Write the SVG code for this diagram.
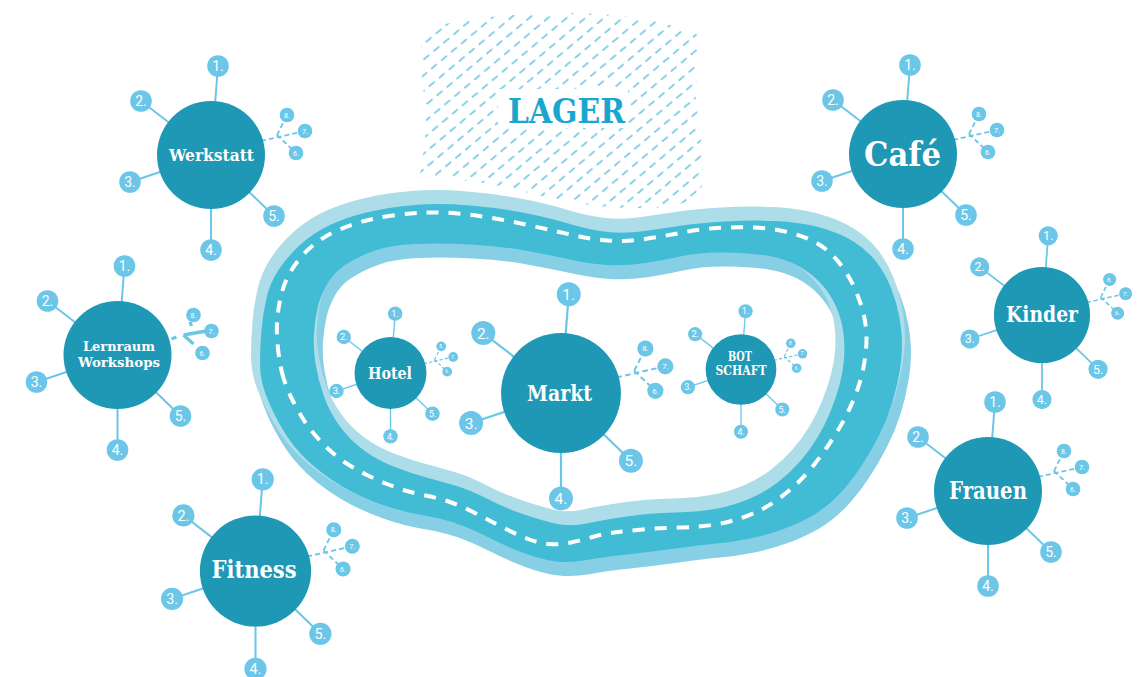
<svg xmlns="http://www.w3.org/2000/svg" xmlns:xlink="http://www.w3.org/1999/xlink" width="1144" height="677" viewBox="0 0 1144 677">
<style>
.sat{fill:#6cc6e8}
.ln{stroke:#6cc6e8;stroke-width:2;fill:none}
.dl{stroke:#6cc6e8;stroke-width:1.8;fill:none;stroke-dasharray:5 3}
.th{stroke:#6cc6e8;stroke-width:3.3;fill:none}
.main{fill:#1e98b4}
.num{font-family:Roboto,"Liberation Sans",sans-serif;fill:#fff;font-size:14px;text-anchor:middle}
.sm{font-size:7px}
.lbl{font-family:"DejaVu Serif","Liberation Serif",serif;font-weight:bold;fill:#fff;text-anchor:middle}
</style>
<defs>
<pattern id="hatch" patternUnits="userSpaceOnUse" width="13" height="12" patternTransform="rotate(-40)">
<line x1="0" y1="6" x2="7.5" y2="6" stroke="#6cc6e8" stroke-width="1.6"/>
</pattern>
<path id="ring" fill-rule="evenodd" d="M266.5,396.5 Q260,380 260,363.5 Q260,347 261.5,330 Q263,313 266.5,298 Q270,283 278.5,270 Q287,257 300,245 Q313,233 330,225 Q347,217 368.5,212 Q390,207 415,205 Q440,203 470,205.5 Q500,208 525,213 Q550,218 570,224 Q590,230 607.5,232 Q625,234 645,231 Q665,228 682.5,225.5 Q700,223 725,221.5 Q750,220 775,221 Q800,222 820,227.5 Q840,233 853.5,241.5 Q867,250 876,261.5 Q885,273 891,288 Q897,303 899.5,318 Q902,333 902,345 Q902,357 899.5,372 Q897,387 892,403.5 Q887,420 878.5,436.5 Q870,453 860,468 Q850,483 838.5,495 Q827,507 813.5,515 Q800,523 783.5,529 Q767,535 750,538.5 Q733,542 716.5,543.5 Q700,545 675,548.5 Q650,552 626.5,554.5 Q603,557 586.5,560 Q570,563 556.5,561.5 Q543,560 525,553.5 Q507,547 488.5,537.5 Q470,528 455,523 Q440,518 421.5,515 Q403,512 381.5,504.5 Q360,497 341.5,486 Q323,475 308,461 Q293,447 283,430 Q273,413 266.5,396.5 Z M314,333.5 Q313,347 315.5,363.5 Q318,380 324,396.5 Q330,413 340,426.5 Q350,440 363.5,450 Q377,460 393.5,466.5 Q410,473 426.5,477.5 Q443,482 456.5,486 Q470,490 486.5,498.5 Q503,507 521.5,513.5 Q540,520 555,523.5 Q570,527 586.5,523.5 Q603,520 626.5,516.5 Q650,513 675,512.5 Q700,512 717.5,508.5 Q735,505 750,498.5 Q765,492 777.5,482.5 Q790,473 800,461.5 Q810,450 817.5,437.5 Q825,425 830.5,411.5 Q836,398 839.5,385 Q843,372 844,359.5 Q845,347 843.5,333.5 Q842,320 836,306.5 Q830,293 820,282.5 Q810,272 796.5,265 Q783,258 766.5,255.5 Q750,253 725,252.5 Q700,252 682.5,256 Q665,260 645,263 Q625,266 607.5,265 Q590,264 570,259.5 Q550,255 525,250.5 Q500,246 470,244.5 Q440,243 415,244 Q390,245 373.5,251 Q357,257 345,265 Q333,273 326.5,285 Q320,297 317.5,308.5 Q315,320 314,333.5 Z"/>
</defs>

<g id="road">
<use xlink:href="#ring" href="#ring" transform="translate(3,8)" fill="#87cfe5" stroke="#87cfe5" stroke-width="12" stroke-linejoin="round"/>
<use xlink:href="#ring" href="#ring" transform="translate(-3,-8)" fill="#acdde8" stroke="#acdde8" stroke-width="12" stroke-linejoin="round"/>
<use xlink:href="#ring" href="#ring" fill="#41bcd4"/>
<path fill="none" stroke="#fff" stroke-width="4" stroke-dasharray="12 10" d="M283.5,378 Q280,367 278,348.5 Q276,330 277.5,316.5 Q279,303 282,292 Q285,281 290,272.5 Q295,264 302,256 Q309,248 318,241.5 Q327,235 338.5,230 Q350,225 362.5,221.5 Q375,218 392.5,215.5 Q410,213 425,212.5 Q440,212 457.5,213.5 Q475,215 495,218.5 Q515,222 535,226.5 Q555,231 572.5,235 Q590,239 607.5,240.5 Q625,242 645,239 Q665,236 682.5,232.5 Q700,229 717.5,228 Q735,227 752.5,227.5 Q770,228 785,231.5 Q800,235 810,239.5 Q820,244 828.5,251.5 Q837,259 843.5,268.5 Q850,278 854.5,288 Q859,298 862,308 Q865,318 866,328.5 Q867,339 866,350 Q865,361 862.5,372 Q860,383 856,393.5 Q852,404 847,414 Q842,424 836,433.5 Q830,443 824,451.5 Q818,460 811,468.5 Q804,477 796.5,484 Q789,491 780.5,497.5 Q772,504 762.5,509 Q753,514 741.5,518 Q730,522 715,524.5 Q700,527 680,527.5 Q660,528 642.5,529.5 Q625,531 614,532.5 Q603,534 592.5,537 Q582,540 571,542.5 Q560,545 549,544 Q538,543 528,539 Q518,535 508,530 Q498,525 488.5,520 Q479,515 469,510 Q459,505 448.5,501.5 Q438,498 427.5,496 Q417,494 407,491 Q397,488 387,484 Q377,480 367,475 Q357,470 347.5,464 Q338,458 330,450.5 Q322,443 315,435 Q308,427 302.5,418 Q297,409 292,399 Q287,389 283.5,378 Z"/>
</g>

<g id="lager">
<path fill="url(#hatch)" d="M425,28 C470,18 520,12 580,13 C630,15 670,22 698,35 C702,60 692,85 697,110 C702,140 704,165 702,185 C700,200 680,208 640,208 C590,209 540,196 500,186 C470,180 440,178 420,175 C424,150 428,125 425,100 C421,75 418,50 425,28 Z"/>
<rect x="498" y="89" width="130" height="39" fill="#fff"/>
<text x="566.5" y="123" font-family="'DejaVu Serif','Liberation Serif',serif" font-weight="bold" font-size="33" fill="#1aa6cf" text-anchor="middle" textLength="117" lengthAdjust="spacingAndGlyphs">LAGER</text>
</g>

<g id="werkstatt">
<g transform="translate(211,155)">
<g class="links"><path class="ln" d="M0,0L7,-89M0,0L-70,-54M0,0L-81,27M0,0L0,95M0,0L63,61"/><path class="dl" d="M50,-14L94,-24M66,-20L76,-40M66,-20L85,-2"/></g>
<circle class="main" r="54"/>
<circle class="sat" cx="7" cy="-89" r="10.8"/><circle class="sat" cx="-70" cy="-54" r="10.8"/><circle class="sat" cx="-81" cy="27" r="10.8"/><circle class="sat" cx="0" cy="95" r="10.8"/><circle class="sat" cx="63" cy="61" r="10.8"/>
<circle class="sat" cx="76" cy="-40" r="7.3"/><circle class="sat" cx="94" cy="-24" r="7.3"/><circle class="sat" cx="85" cy="-2" r="7.3"/>
<text class="num" x="7" y="-84">1.</text><text class="num" x="-70" y="-49">2.</text><text class="num" x="-81" y="32">3.</text><text class="num" x="0" y="100">4.</text><text class="num" x="63" y="66">5.</text>
<text class="num sm" x="85" y="0.5">6.</text><text class="num sm" x="94" y="-21.5">7.</text><text class="num sm" x="76" y="-37.5">8.</text>
</g>
<text class="lbl" x="211.5" y="160.5" font-size="17" textLength="85" lengthAdjust="spacingAndGlyphs">Werkstatt</text>
</g>

<g id="cafe">
<g transform="translate(903,154)">
<g class="links"><path class="ln" d="M0,0L7,-89M0,0L-70,-54M0,0L-81,27M0,0L0,95M0,0L63,61"/><path class="dl" d="M50,-14L94,-24M66,-20L76,-40M66,-20L85,-2"/></g>
<circle class="main" r="54"/>
<circle class="sat" cx="7" cy="-89" r="10.8"/><circle class="sat" cx="-70" cy="-54" r="10.8"/><circle class="sat" cx="-81" cy="27" r="10.8"/><circle class="sat" cx="0" cy="95" r="10.8"/><circle class="sat" cx="63" cy="61" r="10.8"/>
<circle class="sat" cx="76" cy="-40" r="7.3"/><circle class="sat" cx="94" cy="-24" r="7.3"/><circle class="sat" cx="85" cy="-2" r="7.3"/>
<text class="num" x="7" y="-84">1.</text><text class="num" x="-70" y="-49">2.</text><text class="num" x="-81" y="32">3.</text><text class="num" x="0" y="100">4.</text><text class="num" x="63" y="66">5.</text>
<text class="num sm" x="85" y="0.5">6.</text><text class="num sm" x="94" y="-21.5">7.</text><text class="num sm" x="76" y="-37.5">8.</text>
</g>
<text class="lbl" x="902.5" y="166" font-size="33" textLength="77" lengthAdjust="spacingAndGlyphs">Café</text>
</g>

<g id="lernraum">
<g transform="translate(117.5,355)">
<g class="links"><path class="ln" d="M0,0L7,-89M0,0L-70,-54M0,0L-81,27M0,0L0,95M0,0L63,61"/><path class="th" d="M54,-16L59,-18M66,-20L89,-24M66,-20L76,-11M72.5,-33L74,-29"/></g>
<circle class="main" r="54"/>
<circle class="sat" cx="7" cy="-89" r="10.8"/><circle class="sat" cx="-70" cy="-54" r="10.8"/><circle class="sat" cx="-81" cy="27" r="10.8"/><circle class="sat" cx="0" cy="95" r="10.8"/><circle class="sat" cx="63" cy="61" r="10.8"/>
<circle class="sat" cx="76" cy="-40" r="7.3"/><circle class="sat" cx="94" cy="-24" r="7.3"/><circle class="sat" cx="85" cy="-2" r="7.3"/>
<text class="num" x="7" y="-84">1.</text><text class="num" x="-70" y="-49">2.</text><text class="num" x="-81" y="32">3.</text><text class="num" x="0" y="100">4.</text><text class="num" x="63" y="66">5.</text>
<text class="num sm" x="85" y="0.5">6.</text><text class="num sm" x="94" y="-21.5">7.</text><text class="num sm" x="76" y="-37.5">8.</text>
</g>
<text class="lbl" x="119" y="350.5" font-size="13.5" textLength="72" lengthAdjust="spacingAndGlyphs">Lernraum</text>
<text class="lbl" x="119" y="366.5" font-size="13.5" textLength="82" lengthAdjust="spacingAndGlyphs">Workshops</text>
</g>

<g id="fitness">
<g transform="translate(255.5,571) scale(1.03)">
<g class="links"><path class="ln" d="M0,0L7,-89M0,0L-70,-54M0,0L-81,27M0,0L0,95M0,0L63,61"/><path class="dl" d="M50,-14L94,-24M66,-20L76,-40M66,-20L85,-2"/></g>
<circle class="main" r="54"/>
<circle class="sat" cx="7" cy="-89" r="10.8"/><circle class="sat" cx="-70" cy="-54" r="10.8"/><circle class="sat" cx="-81" cy="27" r="10.8"/><circle class="sat" cx="0" cy="95" r="10.8"/><circle class="sat" cx="63" cy="61" r="10.8"/>
<circle class="sat" cx="76" cy="-40" r="7.3"/><circle class="sat" cx="94" cy="-24" r="7.3"/><circle class="sat" cx="85" cy="-2" r="7.3"/>
<text class="num" x="7" y="-84">1.</text><text class="num" x="-70" y="-49">2.</text><text class="num" x="-81" y="32">3.</text><text class="num" x="0" y="100">4.</text><text class="num" x="63" y="66">5.</text>
<text class="num sm" x="85" y="0.5">6.</text><text class="num sm" x="94" y="-21.5">7.</text><text class="num sm" x="76" y="-37.5">8.</text>
</g>
<text class="lbl" x="254" y="578" font-size="25" textLength="85" lengthAdjust="spacingAndGlyphs">Fitness</text>
</g>

<g id="kinder">
<g transform="translate(1042,315) scale(0.89)">
<g class="links"><path class="ln" d="M0,0L7,-89M0,0L-70,-54M0,0L-81,27M0,0L0,95M0,0L63,61"/><path class="dl" d="M50,-14L94,-24M66,-20L76,-40M66,-20L85,-2"/></g>
<circle class="main" r="54"/>
<circle class="sat" cx="7" cy="-89" r="10.8"/><circle class="sat" cx="-70" cy="-54" r="10.8"/><circle class="sat" cx="-81" cy="27" r="10.8"/><circle class="sat" cx="0" cy="95" r="10.8"/><circle class="sat" cx="63" cy="61" r="10.8"/>
<circle class="sat" cx="76" cy="-40" r="7.3"/><circle class="sat" cx="94" cy="-24" r="7.3"/><circle class="sat" cx="85" cy="-2" r="7.3"/>
<text class="num" x="7" y="-84">1.</text><text class="num" x="-70" y="-49">2.</text><text class="num" x="-81" y="32">3.</text><text class="num" x="0" y="100">4.</text><text class="num" x="63" y="66">5.</text>
<text class="num sm" x="85" y="0.5">6.</text><text class="num sm" x="94" y="-21.5">7.</text><text class="num sm" x="76" y="-37.5">8.</text>
</g>
<text class="lbl" x="1042" y="321.5" font-size="22" textLength="72" lengthAdjust="spacingAndGlyphs">Kinder</text>
</g>

<g id="frauen">
<g transform="translate(988,491)">
<g class="links"><path class="ln" d="M0,0L7,-89M0,0L-70,-54M0,0L-81,27M0,0L0,95M0,0L63,61"/><path class="dl" d="M50,-14L94,-24M66,-20L76,-40M66,-20L85,-2"/></g>
<circle class="main" r="54"/>
<circle class="sat" cx="7" cy="-89" r="10.8"/><circle class="sat" cx="-70" cy="-54" r="10.8"/><circle class="sat" cx="-81" cy="27" r="10.8"/><circle class="sat" cx="0" cy="95" r="10.8"/><circle class="sat" cx="63" cy="61" r="10.8"/>
<circle class="sat" cx="76" cy="-40" r="7.3"/><circle class="sat" cx="94" cy="-24" r="7.3"/><circle class="sat" cx="85" cy="-2" r="7.3"/>
<text class="num" x="7" y="-84">1.</text><text class="num" x="-70" y="-49">2.</text><text class="num" x="-81" y="32">3.</text><text class="num" x="0" y="100">4.</text><text class="num" x="63" y="66">5.</text>
<text class="num sm" x="85" y="0.5">6.</text><text class="num sm" x="94" y="-21.5">7.</text><text class="num sm" x="76" y="-37.5">8.</text>
</g>
<text class="lbl" x="988" y="499" font-size="23.5" textLength="78" lengthAdjust="spacingAndGlyphs">Frauen</text>
</g>

<g id="markt">
<g transform="translate(561,393) scale(1.11)">
<g class="links"><path class="ln" d="M0,0L7,-89M0,0L-70,-54M0,0L-81,27M0,0L0,95M0,0L63,61"/><path class="dl" d="M50,-14L94,-24M66,-20L76,-40M66,-20L85,-2"/></g>
<circle class="main" r="54"/>
<circle class="sat" cx="7" cy="-89" r="10.8"/><circle class="sat" cx="-70" cy="-54" r="10.8"/><circle class="sat" cx="-81" cy="27" r="10.8"/><circle class="sat" cx="0" cy="95" r="10.8"/><circle class="sat" cx="63" cy="61" r="10.8"/>
<circle class="sat" cx="76" cy="-40" r="7.3"/><circle class="sat" cx="94" cy="-24" r="7.3"/><circle class="sat" cx="85" cy="-2" r="7.3"/>
<text class="num" x="7" y="-84">1.</text><text class="num" x="-70" y="-49">2.</text><text class="num" x="-81" y="32">3.</text><text class="num" x="0" y="100">4.</text><text class="num" x="63" y="66">5.</text>
<text class="num sm" x="85" y="0.5">6.</text><text class="num sm" x="94" y="-21.5">7.</text><text class="num sm" x="76" y="-37.5">8.</text>
</g>
<text class="lbl" x="559.5" y="400.5" font-size="22" textLength="65" lengthAdjust="spacingAndGlyphs">Markt</text>
</g>

<g id="hotel">
<g transform="translate(390.5,373) scale(0.667)">
<g class="links"><path class="ln" d="M0,0L7,-89M0,0L-70,-54M0,0L-81,27M0,0L0,95M0,0L63,61"/><path class="dl" d="M50,-14L94,-24M66,-20L76,-40M66,-20L85,-2"/></g>
<circle class="main" r="54"/>
<circle class="sat" cx="7" cy="-89" r="10.8"/><circle class="sat" cx="-70" cy="-54" r="10.8"/><circle class="sat" cx="-81" cy="27" r="10.8"/><circle class="sat" cx="0" cy="95" r="10.8"/><circle class="sat" cx="63" cy="61" r="10.8"/>
<circle class="sat" cx="76" cy="-40" r="7.3"/><circle class="sat" cx="94" cy="-24" r="7.3"/><circle class="sat" cx="85" cy="-2" r="7.3"/>
<text class="num" x="7" y="-84">1.</text><text class="num" x="-70" y="-49">2.</text><text class="num" x="-81" y="32">3.</text><text class="num" x="0" y="100">4.</text><text class="num" x="63" y="66">5.</text>
<text class="num sm" x="85" y="0.5">6.</text><text class="num sm" x="94" y="-21.5">7.</text><text class="num sm" x="76" y="-37.5">8.</text>
</g>
<text class="lbl" x="390" y="379" font-size="17" textLength="44" lengthAdjust="spacingAndGlyphs">Hotel</text>
</g>

<g id="botschaft">
<g transform="translate(741,369.5) scale(0.655)">
<g class="links"><path class="ln" d="M0,0L7,-89M0,0L-70,-54M0,0L-81,27M0,0L0,95M0,0L63,61"/><path class="dl" d="M50,-14L94,-24M66,-20L76,-40M66,-20L85,-2"/></g>
<circle class="main" r="54"/>
<circle class="sat" cx="7" cy="-89" r="10.8"/><circle class="sat" cx="-70" cy="-54" r="10.8"/><circle class="sat" cx="-81" cy="27" r="10.8"/><circle class="sat" cx="0" cy="95" r="10.8"/><circle class="sat" cx="63" cy="61" r="10.8"/>
<circle class="sat" cx="76" cy="-40" r="7.3"/><circle class="sat" cx="94" cy="-24" r="7.3"/><circle class="sat" cx="85" cy="-2" r="7.3"/>
<text class="num" x="7" y="-84">1.</text><text class="num" x="-70" y="-49">2.</text><text class="num" x="-81" y="32">3.</text><text class="num" x="0" y="100">4.</text><text class="num" x="63" y="66">5.</text>
<text class="num sm" x="85" y="0.5">6.</text><text class="num sm" x="94" y="-21.5">7.</text><text class="num sm" x="76" y="-37.5">8.</text>
</g>
<text class="lbl" x="740" y="361" font-size="12" textLength="24" lengthAdjust="spacingAndGlyphs">BOT</text>
<text class="lbl" x="741" y="375" font-size="12" textLength="51" lengthAdjust="spacingAndGlyphs">SCHAFT</text>
</g>
</svg>
